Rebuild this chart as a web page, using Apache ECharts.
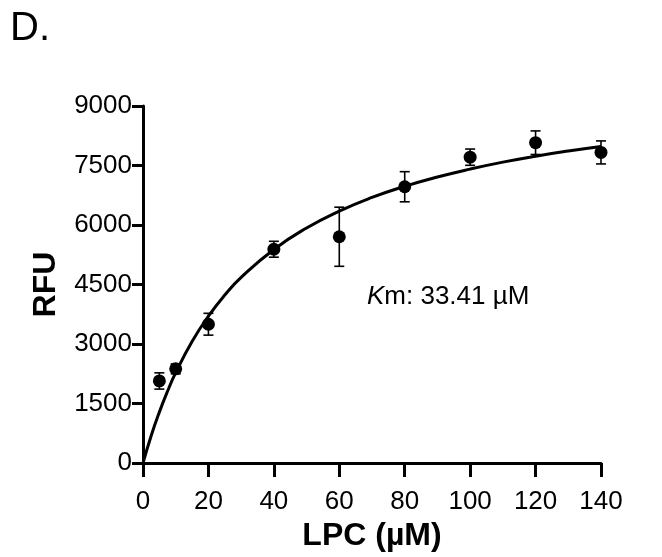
<!DOCTYPE html>
<html>
<head>
<meta charset="utf-8">
<script src="https://cdn.jsdelivr.net/npm/echarts@6/dist/echarts.min.js"></script>
<style>html,body{margin:0;padding:0;background:#fff;}#c{width:662px;height:557px;}</style>
</head>
<body>
<div id="c"></div>
<script>
// Measured data (LPC concentration, mean RFU, SD)
const lpc = [5, 10, 20, 40, 60, 80, 100, 120, 140];
const rfuMean = [2070, 2375, 3500, 5390, 5705, 6965, 7710, 8075, 7830];
const rfuSd = [205, 125, 275, 200, 745, 380, 205, 297, 290];
// Fitted curve
const fitX = [0, 2.5, 5, 7.5, 10, 15, 20, 25, 30, 40, 50, 60, 70, 80, 90, 100, 110, 120, 130, 140];
const fitY = [0, 690, 1285, 1810, 2280, 3065, 3705, 4235, 4680, 5385, 5925, 6350, 6695, 6975, 7210, 7410, 7585, 7735, 7865, 7980];
const xTicks = [0, 20, 40, 60, 80, 100, 120, 140];
const yTicks = [0, 1500, 3000, 4500, 6000, 7500, 9000];

const mainFont = '"Liberation Sans", Arial, sans-serif';

const chart = echarts.init(document.getElementById('c'));
chart.setOption({
  backgroundColor: '#fff',
  animation: false,
  grid: {left: 143, right: 61, top: 106, bottom: 88, containLabel: false},
  xAxis: {
    type: 'value', min: xTicks[0], max: xTicks[xTicks.length - 1], interval: 20,
    name: 'LPC (µM)', nameLocation: 'middle', nameGap: 56,
    nameTextStyle: {fontFamily: mainFont, fontWeight: 'bold', fontSize: 32, color: '#000'},
    axisLine: {lineStyle: {color: '#000', width: 3}},
    axisTick: {show: true, length: 14, lineStyle: {color: '#000', width: 3}},
    axisLabel: {fontFamily: mainFont, fontSize: 26, color: '#000', margin: 26, formatter: v => String(v)},
    splitLine: {show: false}
  },
  yAxis: {
    type: 'value', min: yTicks[0], max: yTicks[yTicks.length - 1], interval: 1500,
    name: 'RFU', nameLocation: 'middle', nameGap: 81, nameRotate: 90,
    nameTextStyle: {fontFamily: mainFont, fontWeight: 'bold', fontSize: 32, color: '#000'},
    axisLine: {show: true, lineStyle: {color: '#000', width: 3}},
    axisTick: {show: true, length: 11, lineStyle: {color: '#000', width: 3}},
    axisLabel: {fontFamily: mainFont, fontSize: 26, color: '#000', margin: 11, formatter: v => String(v)},
    splitLine: {show: false}
  },
  graphic: [
    {type: 'text', left: 10, top: 9, style: {text: 'D.', font: '40px ' + mainFont, fill: '#000'}},
    {type: 'text', left: 367, top: 284, style: {
      text: '{i|K}{n|m: 33.41 µM}',
      rich: {
        i: {fontFamily: mainFont, fontSize: 26, fontStyle: 'italic', fill: '#000', color: '#000'},
        n: {fontFamily: mainFont, fontSize: 26, fill: '#000', color: '#000'}
      }
    }}
  ],
  series: [
    {
      type: 'line', data: fitX.map((x, i) => [x, fitY[i]]),
      smooth: true, showSymbol: false, symbol: 'none',
      lineStyle: {color: '#000', width: 3}, z: 3, silent: true
    },
    {
      type: 'custom',
      data: lpc.map((x, i) => [x, rfuMean[i] - rfuSd[i], rfuMean[i] + rfuSd[i]]),
      renderItem: function (params, api) {
        const lo = api.coord([api.value(0), api.value(1)]);
        const hi = api.coord([api.value(0), api.value(2)]);
        const w = 5;
        const st = {stroke: '#000', lineWidth: 1.6};
        return {type: 'group', children: [
          {type: 'line', shape: {x1: lo[0], y1: lo[1], x2: hi[0], y2: hi[1]}, style: st},
          {type: 'line', shape: {x1: lo[0] - w, y1: lo[1], x2: lo[0] + w, y2: lo[1]}, style: st},
          {type: 'line', shape: {x1: hi[0] - w, y1: hi[1], x2: hi[0] + w, y2: hi[1]}, style: st}
        ]};
      },
      z: 4, silent: true
    },
    {
      type: 'scatter', data: lpc.map((x, i) => [x, rfuMean[i]]),
      symbol: 'circle', symbolSize: 13,
      itemStyle: {color: '#000', opacity: 1}, z: 5, silent: true
    }
  ]
});
</script>
</body>
</html>
